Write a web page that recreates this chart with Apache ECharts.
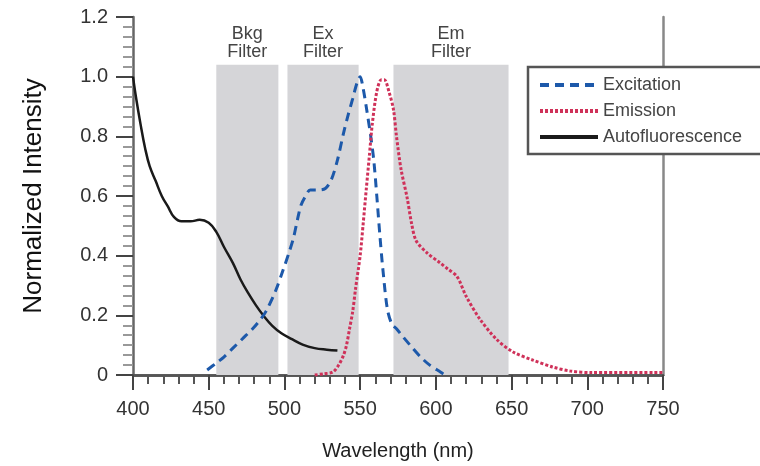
<!DOCTYPE html>
<html>
<head>
<meta charset="utf-8">
<script src="https://cdn.jsdelivr.net/npm/echarts@6/dist/echarts.min.js"></script>
<style>
  html, body { margin: 0; padding: 0; background: #fff; }
  #chart { width: 760px; height: 466px; }
</style>
</head>
<body>
<div id="chart"></div>
<script>
// wavelength (nm) / normalized intensity
const exWl = [449, 455, 460, 466, 472, 479, 484, 488, 494, 499, 503, 506, 509, 511, 514, 517, 522, 527, 531, 535, 539, 542, 545, 548, 550, 552, 554, 557, 559, 561, 563, 565, 568, 571, 574, 578, 583, 590, 596, 603, 606];
const exVal = [0.017, 0.04, 0.06, 0.09, 0.12, 0.155, 0.185, 0.215, 0.28, 0.35, 0.41, 0.46, 0.53, 0.57, 0.6, 0.62, 0.62, 0.625, 0.655, 0.72, 0.81, 0.87, 0.925, 0.98, 1.0, 0.96, 0.9, 0.8, 0.72, 0.6, 0.47, 0.355, 0.22, 0.17, 0.155, 0.13, 0.1, 0.06, 0.033, 0.01, 0.0];

const emWl = [520, 526, 532, 536, 539, 541, 543, 545, 547, 550, 552, 554, 556, 558, 561, 564, 566, 569, 572, 574, 577, 581, 584, 587, 594, 603, 608, 614, 620, 629, 640, 651, 664, 677, 689, 703, 750];
const emVal = [0, 0.004, 0.01, 0.035, 0.066, 0.1, 0.155, 0.21, 0.29, 0.4, 0.507, 0.62, 0.73, 0.84, 0.95, 0.99, 0.99, 0.95, 0.89, 0.8, 0.69, 0.595, 0.507, 0.45, 0.41, 0.375, 0.355, 0.33, 0.264, 0.188, 0.12, 0.077, 0.05, 0.027, 0.013, 0.008, 0.008];

const afWl = [400, 402, 405, 408, 411, 415, 419, 423, 427, 432, 438, 444, 450, 455, 460, 466, 471, 476, 481, 486, 492, 498, 505, 512, 520, 528, 535];
const afVal = [1.0, 0.93, 0.84, 0.76, 0.7, 0.65, 0.6, 0.565, 0.53, 0.515, 0.515, 0.52, 0.51, 0.48, 0.43, 0.375, 0.32, 0.275, 0.235, 0.2, 0.165, 0.14, 0.12, 0.102, 0.09, 0.085, 0.082];

// filter bands
const bandNames = ["Bkg\nFilter", "Ex\nFilter", "Em\nFilter"];
const bandFrom = [455, 502, 572];
const bandTo = [496, 549, 648];
const bandTop = 1.04;

const xTicks = [400, 750, 50];
const yTicks = [0, 1.2, 0.2];

const pairs = (xs, ys) => xs.map((x, i) => [x, ys[i]]);

const chart = echarts.init(document.getElementById("chart"));
const font = "Liberation Sans, Arial, sans-serif";

chart.setOption({
  animation: false,
  grid: { left: 133, right: 97, top: 17, bottom: 86 },
  legend: {
    data: ["Excitation", "Emission", "Autofluorescence"],
    orient: "vertical",
    left: 528,
    top: 67,
    padding: [9, 30, 8, 10],
    itemGap: 8,
    itemWidth: 58,
    itemHeight: 18,
    backgroundColor: "#fff",
    borderColor: "#555",
    borderWidth: 2.5,
    borderRadius: 0,
    itemStyle: { opacity: 0 },
    lineStyle: { width: 4 },
    textStyle: { fontFamily: font, fontSize: 18, color: "#444" },
  },
  xAxis: [
    {
      type: "value",
      min: xTicks[0],
      max: xTicks[1],
      interval: xTicks[2],
      name: "Wavelength (nm)",
      nameLocation: "middle",
      nameGap: 66,
      nameTextStyle: { fontFamily: font, fontSize: 20, color: "#222" },
      axisLine: { show: true, lineStyle: { color: "#444", width: 2.5 } },
      axisTick: { show: true, inside: false, length: 15, lineStyle: { color: "#444", width: 2 } },
      minorTick: { show: true, splitNumber: 5, length: 9, lineStyle: { color: "#555", width: 2 } },
      axisLabel: { margin: 24, fontFamily: font, fontSize: 20, color: "#333" },
      splitLine: { show: false },
    },
    {
      type: "value",
      position: "top",
      min: xTicks[0],
      max: xTicks[1],
      axisLine: { show: true, lineStyle: { color: "#555", width: 2.5 } },
      axisTick: { show: false },
      axisLabel: { show: false },
      splitLine: { show: false },
    },
  ],
  yAxis: [
    {
      type: "value",
      min: yTicks[0],
      max: yTicks[1],
      interval: yTicks[2],
      name: "Normalized Intensity",
      nameLocation: "middle",
      nameGap: 86,
      nameTextStyle: { fontFamily: font, fontSize: 26, color: "#111" },
      axisLine: { show: true, lineStyle: { color: "#666", width: 2.5 } },
      axisTick: { show: true, length: 17, lineStyle: { color: "#444", width: 2 } },
      minorTick: { show: true, splitNumber: 6, length: 10, lineStyle: { color: "#999", width: 2 } },
      axisLabel: {
        margin: 25,
        fontFamily: font,
        fontSize: 20,
        color: "#333",
        formatter: (v) => (v === 0 ? "0" : v.toFixed(1)),
      },
      splitLine: { show: false },
    },
    {
      type: "value",
      position: "right",
      min: yTicks[0],
      max: yTicks[1],
      axisLine: { show: true, lineStyle: { color: "#888", width: 2.5 } },
      axisTick: { show: false },
      axisLabel: { show: false },
      splitLine: { show: false },
    },
  ],
  series: [
    {
      name: "bands",
      type: "line",
      data: [],
      silent: true,
      markArea: {
        silent: true,
        itemStyle: { color: "#d5d5d8" },
        label: {
          show: true,
          position: "top",
          distance: 4,
          fontFamily: font,
          fontSize: 18,
          lineHeight: 18,
          color: "#444",
        },
        data: bandNames.map((n, i) => [
          { name: n, coord: [bandFrom[i], 0] },
          { coord: [bandTo[i], bandTop] },
        ]),
      },
    },
    {
      name: "Autofluorescence",
      type: "line",
      data: pairs(afWl, afVal),
      smooth: 0.4,
      showSymbol: false,
      symbol: "none",
      lineStyle: { color: "#1a1a1a", width: 2.5 },
      itemStyle: { color: "#1a1a1a" },
    },
    {
      name: "Excitation",
      type: "line",
      data: pairs(exWl, exVal),
      smooth: 0.3,
      showSymbol: false,
      symbol: "none",
      lineStyle: { color: "#1d59aa", width: 3, type: [9, 6] },
      itemStyle: { color: "#1d59aa" },
    },
    {
      name: "Emission",
      type: "line",
      data: pairs(emWl, emVal),
      smooth: 0.3,
      showSymbol: false,
      symbol: "none",
      lineStyle: { color: "#cf3159", width: 3, type: [3, 2] },
      itemStyle: { color: "#cf3159" },
    },
  ],
});
</script>
</body>
</html>
